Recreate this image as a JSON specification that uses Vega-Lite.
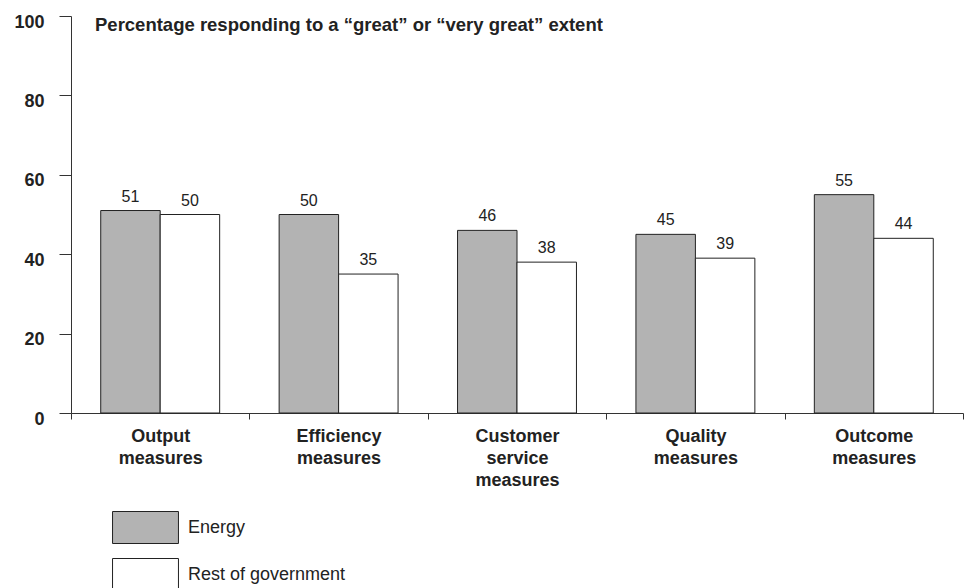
{
  "$schema": "https://vega.github.io/schema/vega-lite/v6.json",
  "autosize": "none",
  "width": 892,
  "height": 397,
  "padding": {"left": 71, "top": 16, "right": 5, "bottom": 175},
  "background": "white",
  "config": {
    "view": {"stroke": null},
    "font": "Liberation Sans",
    "axis": {"domainColor": "#333", "tickColor": "#333", "labelColor": "#222", "grid": false, "title": null}
  },
  "title": {
    "text": "Percentage responding to a “great” or “very great” extent",
    "anchor": "start",
    "frame": "group",
    "fontSize": 18.5,
    "fontWeight": "bold",
    "color": "#222",
    "dx": 24,
    "dy": 9,
    "offset": -12
  },
  "data": {
    "values": [
      {"measure": "Output measures", "group": "Energy", "value": 51},
      {"measure": "Output measures", "group": "Rest of government", "value": 50},
      {"measure": "Efficiency measures", "group": "Energy", "value": 50},
      {"measure": "Efficiency measures", "group": "Rest of government", "value": 35},
      {"measure": "Customer service measures", "group": "Energy", "value": 46},
      {"measure": "Customer service measures", "group": "Rest of government", "value": 38},
      {"measure": "Quality measures", "group": "Energy", "value": 45},
      {"measure": "Quality measures", "group": "Rest of government", "value": 39},
      {"measure": "Outcome measures", "group": "Energy", "value": 55},
      {"measure": "Outcome measures", "group": "Rest of government", "value": 44}
    ]
  },
  "encoding": {
    "x": {
      "field": "measure",
      "type": "nominal",
      "sort": null,
      "scale": {"paddingInner": 0, "paddingOuter": 0},
      "axis": {
        "labelAngle": 0,
        "tickBand": "extent",
        "tickSize": 6,
        "labelFontSize": 18,
        "labelFontWeight": "bold",
        "labelPadding": 8,
        "labelLineHeight": 22,
        "labelExpr": "split(datum.label, ' ')"
      }
    },
    "xOffset": {
      "field": "group",
      "type": "nominal",
      "sort": ["Energy", "Rest of government"],
      "scale": {"paddingInner": 0, "paddingOuter": 0.5}
    },
    "y": {
      "field": "value",
      "type": "quantitative",
      "scale": {"domain": [0, 100], "nice": false},
      "axis": {
        "values": [0, 20, 40, 60, 80, 100],
        "tickSize": 12,
        "labelFontSize": 18,
        "labelFontWeight": "bold",
        "labelPadding": 15,
        "labelOffset": 6
      }
    }
  },
  "layer": [
    {
      "mark": {"type": "bar", "stroke": "#222", "strokeWidth": 1},
      "encoding": {
        "fill": {
          "field": "group",
          "type": "nominal",
          "sort": ["Energy", "Rest of government"],
          "scale": {"domain": ["Energy", "Rest of government"], "range": ["#b3b3b3", "#ffffff"]},
          "legend": {
            "orient": "none",
            "legendX": 58,
            "legendY": 495,
            "direction": "vertical",
            "title": null,
            "symbolType": "M-2.06,-1H2.06V1H-2.06Z",
            "symbolSize": 1024,
            "symbolStrokeColor": "#222",
            "symbolStrokeWidth": 1,
            "labelFontSize": 18,
            "labelColor": "#222",
            "labelOffset": 26,
            "rowPadding": 10
          }
        }
      }
    },
    {
      "mark": {"type": "text", "dy": -6, "baseline": "bottom", "fontSize": 16, "color": "#222"},
      "encoding": {"text": {"field": "value", "type": "quantitative"}}
    }
  ]
}
